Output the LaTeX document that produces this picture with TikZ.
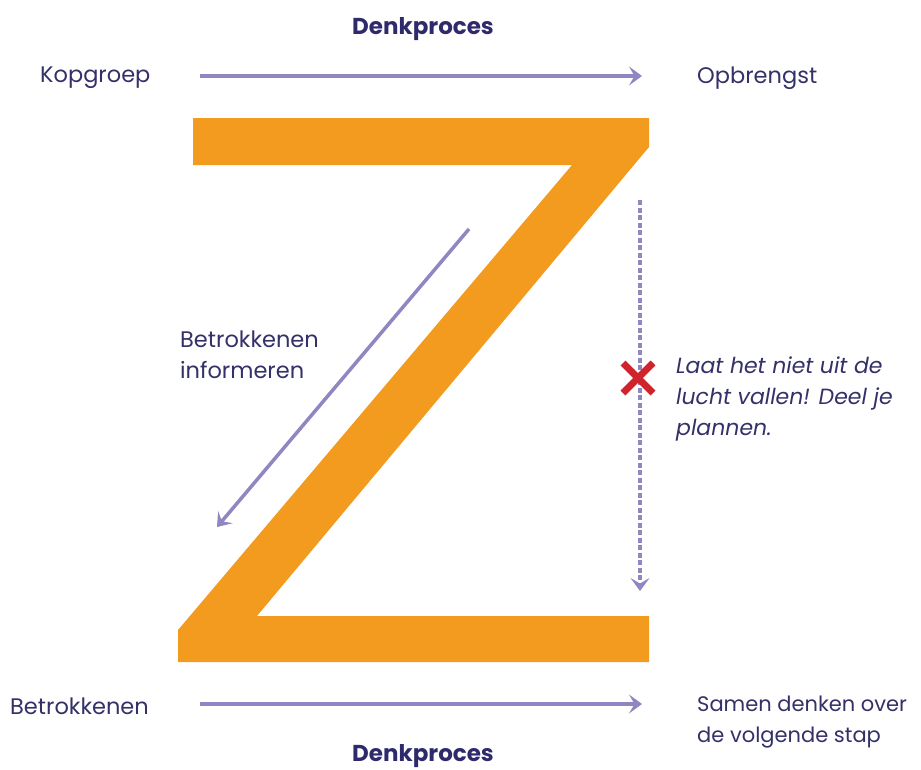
\documentclass[tikz,border=0pt]{standalone}
\usepackage{fontspec}
\setmainfont{Poppins}
\usetikzlibrary{positioning}
\usetikzlibrary{arrows.meta}
\definecolor{zoranje}{RGB}{243,155,30}
\definecolor{pijlpaars}{RGB}{142,135,194}
\definecolor{tekstblauw}{RGB}{52,48,104}
\definecolor{kopblauw}{RGB}{46,42,107}
\definecolor{kruisrood}{RGB}{208,36,44}
\tikzstyle{pijl} = [draw=pijlpaars, line width=4pt, -{Stealth[length=13pt,width=19pt,inset=5.5pt]}]
\tikzstyle{stippel} = [pijl, line width=3.5pt, dash pattern=on 5pt off 2.5pt]
\tikzstyle{tekst} = [text=tekstblauw, font=\fontsize{22.5}{31}\selectfont, inner sep=0pt, anchor=west, align=left]
\tikzstyle{kop} = [text=kopblauw, font=\fontsize{23}{31}\selectfont\bfseries, inner sep=0pt]
\tikzstyle{kruis} = [draw=kruisrood, line width=7pt]

\begin{document}
\begin{tikzpicture}[x=1pt, y=-1pt]
	\useasboundingbox (0,0) rectangle (921,769);
	% de Z
	\fill[zoranje] (193,118) -- (649,118) -- (649,147) -- (257,616) -- (649,616) -- (649,662)
		-- (178,662) -- (178,630) -- (572,165) -- (193,165) -- cycle;
	
	\node[kop] (denk1) at (423,29) {Denkproces};
	\node[kop] (denk2) at (423,756) {Denkproces};
	\node[tekst] (kopgroep) at (40,78) {Kopgroep};
	\node[tekst] (opbrengst) at (697,78) {Opbrengst};
	\node[tekst] (betrokkenen) at (10,706) {Betrokkenen};
	\node[tekst, font=\fontsize{21}{31}\selectfont] (samen) at (697,722) {Samen denken over\\de volgende stap};
	\node[tekst] (informeren) at (180,355) {Betrokkenen\\informeren};
	\node[tekst, font=\fontsize{22}{31}\selectfont\itshape] (vallen) at (676,399) {Laat het niet uit de\\lucht vallen! Deel je\\plannen.};
	
	\coordinate (boven1) at (200,76);
	\coordinate (boven2) at (642,76);
	\coordinate (onder1) at (200,704);
	\coordinate (onder2) at (642,704);
	\coordinate (schuin1) at (469,229);
	\coordinate (schuin2) at (217,527);
	\coordinate (stip1) at (640,200);
	\coordinate (stip2) at (640,591);
	\coordinate (kruismidden) at (638,378);
	
	\path [pijl] (boven1) -- (boven2);
	\path [pijl] (onder1) -- (onder2);
	\path [pijl, line width=3.5pt] (schuin1) -- (schuin2);
	\path [stippel] (stip1) -- (stip2);
	\draw [kruis] ([shift={(-15,-15)}]kruismidden) -- ([shift={(15,15)}]kruismidden);
	\draw [kruis] ([shift={(-15,15)}]kruismidden) -- ([shift={(15,-15)}]kruismidden);
\end{tikzpicture}
\end{document}
